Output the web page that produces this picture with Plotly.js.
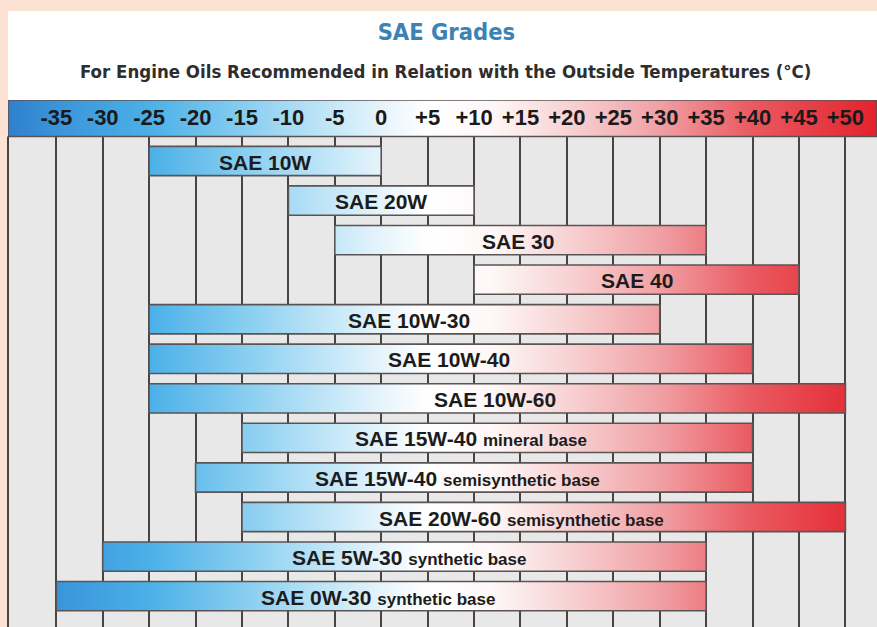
<!DOCTYPE html>
<html>
<head>
<meta charset="utf-8">
<script src="https://cdn.plot.ly/plotly-3.0.1.min.js"></script>
<style>
html,body{margin:0;padding:0;background:#fbe2d3;}
#chart{width:877px;height:627px;}
</style>
</head>
<body>
<div id="chart"></div>
<script>
// ---- data ----
const grades = ["SAE 10W","SAE 20W","SAE 30","SAE 40","SAE 10W-30","SAE 10W-40","SAE 10W-60",
                "SAE 15W-40","SAE 15W-40","SAE 20W-60","SAE 5W-30","SAE 0W-30"];
const gradeNotes = ["","","","","","","","mineral base","semisynthetic base","semisynthetic base",
                    "synthetic base","synthetic base"];
const tempFrom = [-25,-10,-5,10,-25,-25,-25,-15,-20,-15,-30,-35];
const tempTo   = [0,10,35,45,30,40,50,40,40,50,35,35];
const tickValues = [-35,-30,-25,-20,-15,-10,-5,0,5,10,15,20,25,30,35,40,45,50];
const tickLabels = ["-35","-30","-25","-20","-15","-10","-5","0","+5","+10","+15","+20",
                    "+25","+30","+35","+40","+45","+50"];

// ---- styles ----
const xMin = -40.2, xMax = 53.4;
const yTop = -1.542, yBottom = 11.78, headerBottom = -0.62, halfBar = 0.37;
const gradTemps  = [-40.2,'#2f80cc', -35,'#3a94da', -25,'#4bb0e8', -15,'#86cdf0', -5,'#c6e8f8',
                    0,'#e6f4fb', 5,'#ffffff', 12,'#fef7f7', 20,'#f8d3d4', 30,'#f0a0a4',
                    40,'#ea5960', 53.4,'#e3222c'];
const labelShift = [0,0,-2,0,5,-2,-2,-26,-17,-22,5,-3];
const labelFont = 'Liberation Sans, Arial, sans-serif';

const colorscale = [];
for (let k = 0; k < gradTemps.length; k += 2) {
  colorscale.push([(gradTemps[k]-xMin)/(xMax-xMin), gradTemps[k+1]]);
}
const grad = {type:'horizontal', colorscale: colorscale, start: xMin, stop: xMax};

const traces = [];
// header strip
traces.push({
  type:'scatter', mode:'lines', fill:'toself', fillgradient: grad,
  x:[xMin,xMax,xMax,xMin,xMin], y:[yTop,yTop,headerBottom,headerBottom,yTop],
  line:{color:'#5a5252', width:1.5}, hoverinfo:'skip', showlegend:false
});
// grade bars
grades.forEach((g,i)=>{
  const s = tempFrom[i], e = tempTo[i];
  traces.push({
    type:'scatter', mode:'lines', fill:'toself', fillgradient: grad,
    x:[s,e,e,s,s], y:[i-halfBar,i-halfBar,i+halfBar,i+halfBar,i-halfBar],
    line:{color:'#5b5454', width:1.6}, hoverinfo:'skip', showlegend:false
  });
});

const annotations = grades.map((g,i)=>({
  x:(tempFrom[i]+tempTo[i])/2, y:i, xref:'x', yref:'y',
  text: gradeNotes[i] ? g + ' <span style="font-size:17px">' + gradeNotes[i] + '</span>' : g,
  showarrow:false, xanchor:'center', yanchor:'middle', xshift:labelShift[i], yshift:-1,
  font:{family:labelFont, size:21, weight:'bold', color:'#1c1c1c'}
}));
annotations.push({
  text:'For Engine Oils Recommended in Relation with the Outside Temperatures (°C)',
  xref:'paper', yref:'paper', x:0.504, y:1+(100-72)/527, xanchor:'center', yanchor:'middle',
  showarrow:false,
  font:{family:'DejaVu Sans Condensed, DejaVu Sans, sans-serif', size:18.5, weight:'bold', color:'#2e2e2e'}
});

const layout = {
  width:877, height:627,
  paper_bgcolor:'#fbe2d3', plot_bgcolor:'#e8e8e8',
  margin:{l:8, r:0, t:100, b:0, pad:0},
  title:{text:'SAE Grades', x:0.509, xref:'container', xanchor:'center',
         y:1-32/627, yref:'container', yanchor:'middle',
         font:{family:'DejaVu Sans Condensed, DejaVu Sans, sans-serif', size:23.5, weight:'bold', color:'#3b82b5'}},
  xaxis:{range:[xMin,xMax], tickvals:tickValues, ticktext:tickLabels, side:'top',
         ticklabelposition:'inside', ticklabelstandoff:7, ticks:'', showgrid:true,
         gridcolor:'#4a4343', gridwidth:2, zeroline:false, showline:false, fixedrange:true,
         tickfont:{family:labelFont, size:22, weight:'bold', color:'#1a1a1a'}},
  yaxis:{range:[yBottom,yTop], visible:false, showgrid:false, zeroline:false, fixedrange:true},
  shapes:[
    {type:'rect', xref:'paper', yref:'paper', x0:0, x1:1, y0:1, y1:1+(100-11)/527,
     fillcolor:'#ffffff', line:{width:0}, layer:'below'},
    {type:'line', xref:'paper', yref:'y', x0:0, x1:0, y0:headerBottom, y1:yBottom,
     line:{color:'#4a4343', width:2}}
  ],
  annotations: annotations,
  showlegend:false
};

Plotly.newPlot('chart', traces, layout, {displayModeBar:false, staticPlot:true});
</script>
</body>
</html>
